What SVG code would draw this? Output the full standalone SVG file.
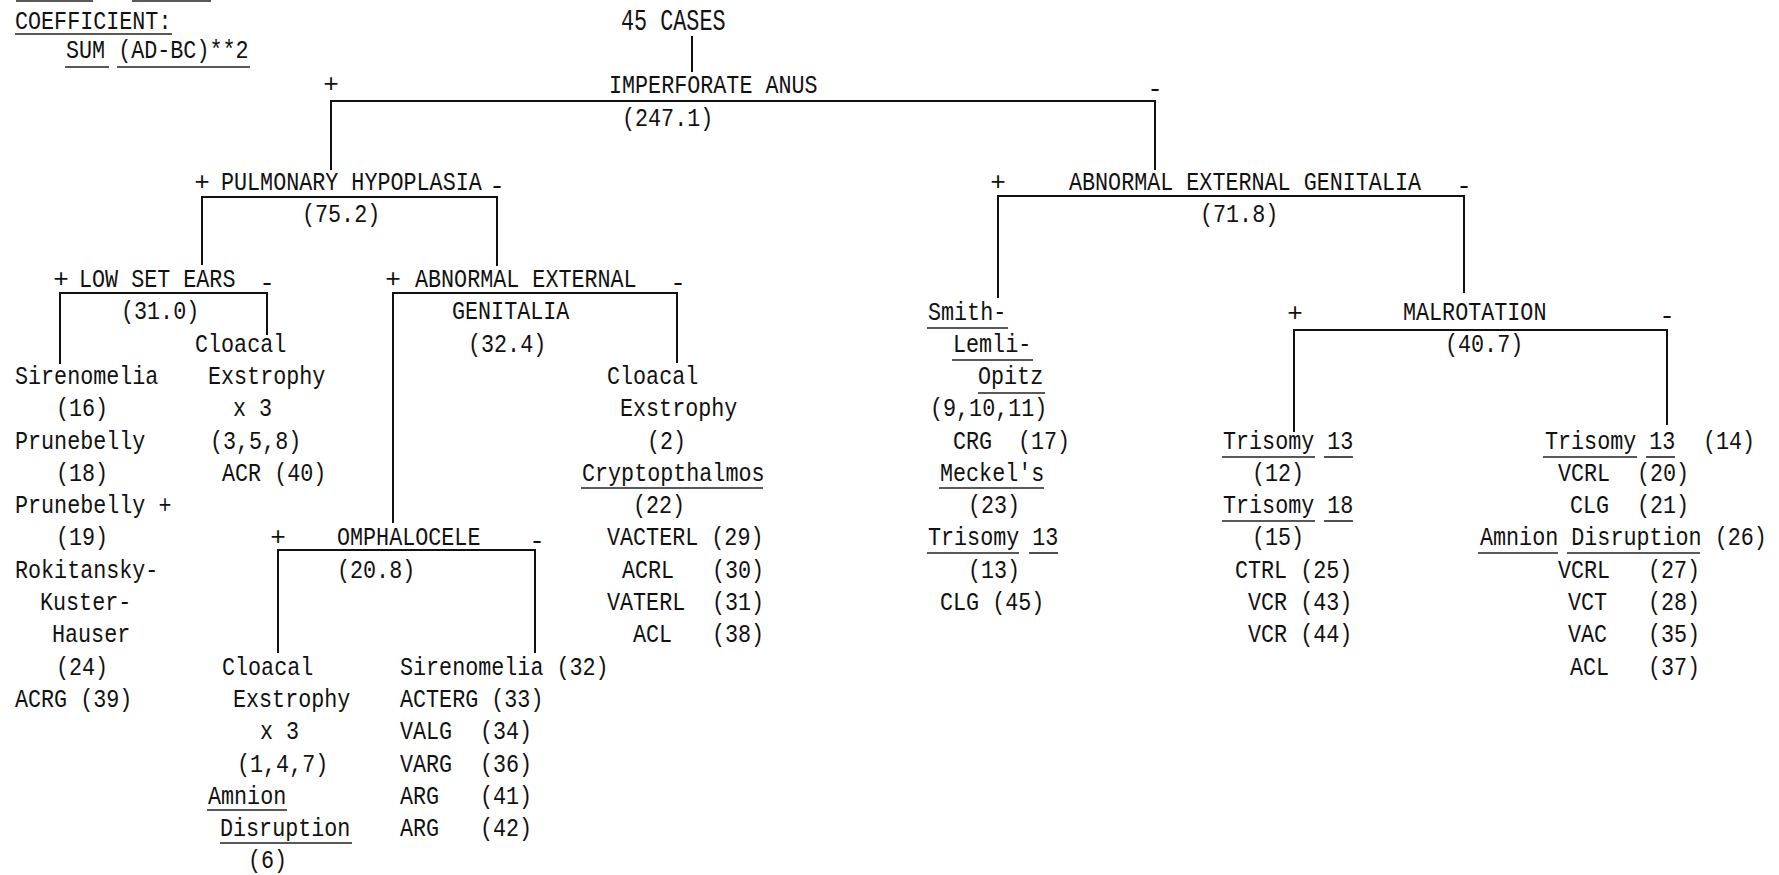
<svg xmlns="http://www.w3.org/2000/svg" width="1779" height="875" viewBox="0 0 1779 875">
<style>
.t{font-family:"Liberation Mono","DejaVu Sans Mono",monospace;font-size:26px;fill:#111;transform-box:fill-box;transform-origin:0 0;transform:scaleX(0.836)}
.big{font-size:30px;transform:scaleX(0.726)}
.sg{font-family:"Liberation Mono","DejaVu Sans Mono",monospace;font-size:26px;fill:#111;text-anchor:middle}
.c{stroke:#111;stroke-width:2;fill:none}
.u{stroke:#222;stroke-width:1.6;fill:none}
</style>
<rect width="1779" height="875" fill="#fff"/>
<g id="connectors">
<line class="c" x1="692" y1="36" x2="692" y2="72"/>
<polyline class="c" points="331,170 331,101 1155,101 1155,170"/>
<polyline class="c" points="202,265 202,197 497,197 497,266"/>
<polyline class="c" points="60,364 60,293 267,293 267,335"/>
<polyline class="c" points="393,523 393,293 677,293 677,363"/>
<polyline class="c" points="278,653 278,550 535,550 535,653"/>
<polyline class="c" points="998,298 998,196 1464,196 1464,293"/>
<polyline class="c" points="1294,432 1294,330 1667,330 1667,425"/>
</g>
<g id="legend">
<line class="u" x1="16" y1="1" x2="93" y2="1"/>
<line class="u" x1="132" y1="1" x2="211" y2="1"/>
<text class="t" x="15" y="29">COEFFICIENT:</text>
<line class="u" x1="15" y1="34" x2="172" y2="34"/>
<text class="t" x="66" y="58">SUM (AD-BC)**2</text>
<line class="u" x1="65" y1="67" x2="109" y2="67"/>
<line class="u" x1="117" y1="67" x2="250" y2="67"/>
</g>
<g id="n-root"><text class="t big" x="621" y="30">45 CASES</text></g>
<g id="n-imperforate-anus">
<text class="sg" x="331" y="92">+</text>
<text class="t" x="609" y="93">IMPERFORATE ANUS</text>
<text class="sg" x="1155" y="97">-</text>
<text class="t" x="622" y="126">(247.1)</text>
</g>
<g id="n-pulmonary-hypoplasia">
<text class="sg" x="202" y="190">+</text>
<text class="t" x="221" y="190">PULMONARY HYPOPLASIA</text>
<text class="sg" x="497" y="194">-</text>
<text class="t" x="302" y="222">(75.2)</text>
</g>
<g id="n-abnormal-genitalia-right">
<text class="sg" x="998" y="190">+</text>
<text class="t" x="1069" y="190">ABNORMAL EXTERNAL GENITALIA</text>
<text class="sg" x="1464" y="194">-</text>
<text class="t" x="1200" y="222">(71.8)</text>
</g>
<g id="n-low-set-ears">
<text class="sg" x="61" y="287">+</text>
<text class="t" x="79" y="287">LOW SET EARS</text>
<text class="sg" x="267" y="291">-</text>
<text class="t" x="121" y="319">(31.0)</text>
</g>
<g id="n-abnormal-genitalia-left">
<text class="sg" x="393" y="287">+</text>
<text class="t" x="415" y="287">ABNORMAL EXTERNAL</text>
<text class="sg" x="678" y="291">-</text>
<text class="t" x="452" y="319">GENITALIA</text>
<text class="t" x="468" y="352">(32.4)</text>
</g>
<g id="n-omphalocele">
<text class="sg" x="278" y="545">+</text>
<text class="t" x="337" y="545">OMPHALOCELE</text>
<text class="sg" x="537" y="549">-</text>
<text class="t" x="337" y="578">(20.8)</text>
</g>
<g id="n-malrotation">
<text class="sg" x="1295" y="321">+</text>
<text class="t" x="1403" y="320">MALROTATION</text>
<text class="sg" x="1667" y="324">-</text>
<text class="t" x="1445" y="352">(40.7)</text>
</g>
<g id="leaf-low-set-ears-plus">
<text class="t" x="15" y="384">Sirenomelia</text>
<text class="t" x="56" y="416">(16)</text>
<text class="t" x="15" y="449">Prunebelly</text>
<text class="t" x="56" y="481">(18)</text>
<text class="t" x="15" y="513">Prunebelly +</text>
<text class="t" x="56" y="545">(19)</text>
<text class="t" x="15" y="578">Rokitansky-</text>
<text class="t" x="40" y="610">Kuster-</text>
<text class="t" x="52" y="642">Hauser</text>
<text class="t" x="56" y="675">(24)</text>
<text class="t" x="15" y="707">ACRG (39)</text>
</g>
<g id="leaf-low-set-ears-minus">
<text class="t" x="195" y="352">Cloacal</text>
<text class="t" x="208" y="384">Exstrophy</text>
<text class="t" x="233" y="416">x 3</text>
<text class="t" x="210" y="449">(3,5,8)</text>
<text class="t" x="222" y="481">ACR (40)</text>
</g>
<g id="leaf-abnormal-genitalia-left-minus">
<text class="t" x="607" y="384">Cloacal</text>
<text class="t" x="620" y="416">Exstrophy</text>
<text class="t" x="647" y="449">(2)</text>
<text class="t" x="582" y="481">Cryptopthalmos</text>
<line class="u" x1="581" y1="488" x2="763" y2="488"/>
<text class="t" x="633" y="513">(22)</text>
<text class="t" x="607" y="545">VACTERL (29)</text>
<text class="t" x="622" y="578">ACRL</text><text class="t" x="712" y="578">(30)</text>
<text class="t" x="607" y="610">VATERL</text><text class="t" x="712" y="610">(31)</text>
<text class="t" x="633" y="642">ACL</text><text class="t" x="712" y="642">(38)</text>
</g>
<g id="leaf-omphalocele-plus">
<text class="t" x="222" y="675">Cloacal</text>
<text class="t" x="233" y="707">Exstrophy</text>
<text class="t" x="260" y="739">x 3</text>
<text class="t" x="237" y="772">(1,4,7)</text>
<text class="t" x="208" y="804">Amnion</text>
<line class="u" x1="207" y1="810" x2="287" y2="810"/>
<text class="t" x="220" y="836">Disruption</text>
<line class="u" x1="220" y1="843" x2="352" y2="843"/>
<text class="t" x="248" y="868">(6)</text>
</g>
<g id="leaf-omphalocele-minus">
<text class="t" x="400" y="675">Sirenomelia (32)</text>
<text class="t" x="400" y="707">ACTERG (33)</text>
<text class="t" x="400" y="739">VALG</text><text class="t" x="480" y="739">(34)</text>
<text class="t" x="400" y="772">VARG</text><text class="t" x="480" y="772">(36)</text>
<text class="t" x="400" y="804">ARG</text><text class="t" x="480" y="804">(41)</text>
<text class="t" x="400" y="836">ARG</text><text class="t" x="480" y="836">(42)</text>
</g>
<g id="leaf-abnormal-genitalia-right-plus">
<text class="t" x="928" y="320">Smith-</text>
<line class="u" x1="927" y1="328" x2="1008" y2="328"/>
<text class="t" x="953" y="352">Lemli-</text>
<line class="u" x1="952" y1="360" x2="1033" y2="360"/>
<text class="t" x="978" y="384">Opitz</text>
<line class="u" x1="978" y1="393" x2="1045" y2="393"/>
<text class="t" x="930" y="416">(9,10,11)</text>
<text class="t" x="953" y="449">CRG</text><text class="t" x="1018" y="449">(17)</text>
<text class="t" x="940" y="481">Meckel's</text>
<line class="u" x1="939" y1="488" x2="1044" y2="488"/>
<text class="t" x="968" y="513">(23)</text>
<text class="t" x="928" y="545">Trisomy 13</text>
<line class="u" x1="927" y1="553" x2="1019" y2="553"/>
<line class="u" x1="1029" y1="553" x2="1058" y2="553"/>
<text class="t" x="968" y="578">(13)</text>
<text class="t" x="940" y="610">CLG (45)</text>
</g>
<g id="leaf-malrotation-plus">
<text class="t" x="1223" y="449">Trisomy 13</text>
<line class="u" x1="1222" y1="457" x2="1315" y2="457"/>
<line class="u" x1="1324" y1="457" x2="1353" y2="457"/>
<text class="t" x="1252" y="481">(12)</text>
<text class="t" x="1223" y="513">Trisomy 18</text>
<line class="u" x1="1222" y1="521" x2="1315" y2="521"/>
<line class="u" x1="1324" y1="521" x2="1353" y2="521"/>
<text class="t" x="1252" y="545">(15)</text>
<text class="t" x="1235" y="578">CTRL (25)</text>
<text class="t" x="1248" y="610">VCR (43)</text>
<text class="t" x="1248" y="642">VCR (44)</text>
</g>
<g id="leaf-malrotation-minus">
<text class="t" x="1545" y="449">Trisomy 13</text><text class="t" x="1703" y="449">(14)</text>
<line class="u" x1="1543" y1="457" x2="1637" y2="457"/>
<line class="u" x1="1646" y1="457" x2="1675" y2="457"/>
<text class="t" x="1558" y="481">VCRL</text><text class="t" x="1637" y="481">(20)</text>
<text class="t" x="1570" y="513">CLG</text><text class="t" x="1637" y="513">(21)</text>
<text class="t" x="1480" y="545">Amnion Disruption (26)</text>
<line class="u" x1="1478" y1="553" x2="1558" y2="553"/>
<line class="u" x1="1567" y1="553" x2="1700" y2="553"/>
<text class="t" x="1558" y="578">VCRL</text><text class="t" x="1648" y="578">(27)</text>
<text class="t" x="1568" y="610">VCT</text><text class="t" x="1648" y="610">(28)</text>
<text class="t" x="1568" y="642">VAC</text><text class="t" x="1648" y="642">(35)</text>
<text class="t" x="1570" y="675">ACL</text><text class="t" x="1648" y="675">(37)</text>
</g>
</svg>
